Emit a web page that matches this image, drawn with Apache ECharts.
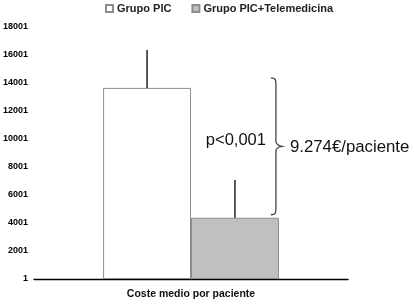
<!DOCTYPE html>
<html>
<head>
<meta charset="utf-8">
<script src="https://cdn.jsdelivr.net/npm/echarts@6/dist/echarts.min.js"></script>
<style>html,body{margin:0;padding:0;background:#fff}#c{width:414px;height:304px}</style>
</head>
<body>
<div id="c"></div>
<script>
var categories = ['Coste medio por paciente'];
var seriesNames = ['Grupo PIC', 'Grupo PIC+Telemedicina'];
var grupoPIC = [13650];
var grupoPICTele = [4376];
var errorTopPIC = [16350];
var errorTopTele = [7070];
var tickLabels = ['1', '2001', '4001', '6001', '8001', '10001', '12001', '14001', '16001', '18001'];
var pText = 'p<0,001';
var diffText = '9.274€/paciente';

var BAR_FRAC = 0.28;
var chart = echarts.init(document.getElementById('c'), null, {renderer: 'canvas'});

function annotRender(params, api) {
  var c1 = api.coord([0, api.value(1)]);
  var c2 = api.coord([0, api.value(2)]);
  var e1 = api.coord([0, api.value(3)]);
  var e2 = api.coord([0, api.value(4)]);
  var band = api.size([1, 0])[0];
  var bw = band * BAR_FRAC;
  var x1 = c1[0] - bw / 2;
  var x2 = c1[0] + bw / 2;
  var xr = c1[0] + bw;
  var yTop = c1[1] - 10;
  var yBot = c2[1] - 3;
  var yMid = (yTop + yBot) / 2;
  var bx0 = xr - 8, bx1 = xr - 3, bx2 = xr + 3;
  var path = 'M' + bx0 + ' ' + yTop +
    ' C' + (bx1) + ' ' + yTop + ' ' + bx1 + ' ' + (yTop + 2) + ' ' + bx1 + ' ' + (yTop + 8) +
    ' L' + bx1 + ' ' + (yMid - 5) +
    ' C' + bx1 + ' ' + (yMid - 1) + ' ' + bx2 + ' ' + yMid + ' ' + bx2 + ' ' + yMid +
    ' C' + bx2 + ' ' + yMid + ' ' + bx1 + ' ' + (yMid + 1) + ' ' + bx1 + ' ' + (yMid + 5) +
    ' L' + bx1 + ' ' + (yBot - 8) +
    ' C' + bx1 + ' ' + (yBot - 2) + ' ' + bx1 + ' ' + yBot + ' ' + bx0 + ' ' + yBot;
  return {
    type: 'group',
    children: [
      {type: 'line', shape: {x1: x1, y1: c1[1], x2: x1, y2: e1[1]}, style: {stroke: '#000', lineWidth: 1.3}},
      {type: 'line', shape: {x1: x2, y1: c2[1], x2: x2, y2: e2[1]}, style: {stroke: '#000', lineWidth: 1.3}},
      {type: 'path', shape: {pathData: path}, style: {stroke: '#444', lineWidth: 1.3, fill: null}},
      {type: 'text', style: {text: pText, x: bx0 - 5, y: yMid - 6, align: 'right', verticalAlign: 'middle', font: '16.5px "Liberation Sans", Arial, sans-serif', fill: '#111'}},
      {type: 'text', style: {text: diffText, x: bx2 + 8, y: yMid + 1, align: 'left', verticalAlign: 'middle', font: '16.8px "Liberation Sans", Arial, sans-serif', fill: '#111'}}
    ]
  };
}

chart.setOption({
  animation: false,
  backgroundColor: '#fff',
  legend: {
    top: -2, left: 100,
    itemWidth: 7, itemHeight: 7, itemGap: 20,
    icon: 'rect',
    textStyle: {fontSize: 11, fontWeight: 'bold', color: '#222', fontFamily: '"Liberation Sans", Arial, sans-serif', padding: [0, 0, 0, -1]},
    data: seriesNames
  },
  grid: {left: 30, right: 66, top: 27, bottom: 25},
  xAxis: {
    type: 'category',
    data: categories,
    axisLine: {lineStyle: {color: '#000', width: 1.3}},
    axisTick: {show: false},
    axisLabel: {margin: 10, fontSize: 10.5, fontWeight: 'bold', color: '#111', fontFamily: '"Liberation Sans", Arial, sans-serif'}
  },
  yAxis: {
    type: 'value', min: 0, max: 18000, interval: 2000,
    axisLine: {show: false},
    axisTick: {show: false},
    splitLine: {show: false},
    axisLabel: {
      margin: 6, fontSize: 9, fontWeight: 'bold', color: '#000',
      fontFamily: '"Liberation Sans Narrow", "Liberation Sans", Arial, sans-serif',
      formatter: function (v) { return tickLabels[Math.round(v / 2000)]; }
    }
  },
  series: [
    {name: seriesNames[0], type: 'bar', data: grupoPIC, barWidth: (BAR_FRAC * 100) + '%', barGap: '0%',
      itemStyle: {color: '#fff', borderColor: '#8c8c8c', borderWidth: 1}},
    {name: seriesNames[1], type: 'bar', data: grupoPICTele, barWidth: (BAR_FRAC * 100) + '%', barGap: '0%',
      itemStyle: {color: '#c0c0c0', borderColor: '#8c8c8c', borderWidth: 1}},
    {type: 'custom', renderItem: annotRender, silent: true, z: 5,
      data: [[0, grupoPIC[0], grupoPICTele[0], errorTopPIC[0], errorTopTele[0]]]}
  ]
});
</script>
</body>
</html>
